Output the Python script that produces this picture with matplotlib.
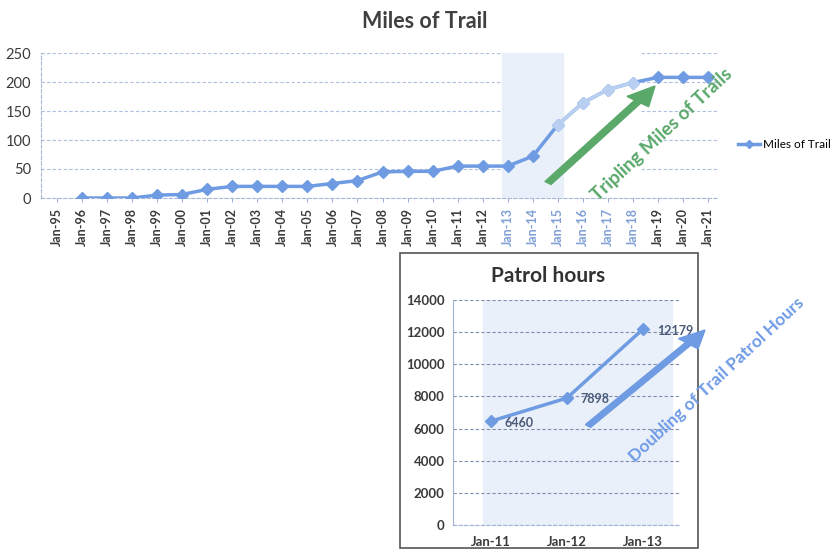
import matplotlib
matplotlib.use("Agg")
import matplotlib.pyplot as plt
import numpy as np
from matplotlib.patches import Rectangle, FancyArrow

# ---- data ----
years = ["Jan-95", "Jan-96", "Jan-97", "Jan-98", "Jan-99", "Jan-00", "Jan-01", "Jan-02",
         "Jan-03", "Jan-04", "Jan-05", "Jan-06", "Jan-07", "Jan-08", "Jan-09", "Jan-10",
         "Jan-11", "Jan-12", "Jan-13", "Jan-14", "Jan-15", "Jan-16", "Jan-17", "Jan-18",
         "Jan-19", "Jan-20", "Jan-21"]
miles = [np.nan, 0, 0, 0, 5, 6, 15, 20, 20, 20, 20, 25, 30, 45, 46, 46,
         55, 55, 55, 72, 126, 164, 187, 199, 208, 208, 208]

patrol_years = ["Jan-11", "Jan-12", "Jan-13"]
patrol_hours = [6460, 7898, 12179]

BLUE = "#6f9be2"
LIGHT = "#b9cff2"
DARK = "#3a3a3a"
GREEN = "#5aa86a"

plt.rcParams['font.family'] = ['Lato', 'DejaVu Sans']

fig = plt.figure(figsize=(8.36, 5.5), dpi=100)

# ---- main chart ----
W, H = 836, 550
def fbox(l, t, r, b):
    return [l / W, 1 - b / H, (r - l) / W, (b - t) / H]

ax = fig.add_axes(fbox(41, 53, 718, 198))
x = np.arange(len(years))
ax.set_xlim(-0.64, 26.4)
ax.set_ylim(0, 250)
ax.set_yticks([0, 50, 100, 150, 200, 250])
ax.grid(axis='y', color="#aebfe0", linestyle=(0, (3, 2)), linewidth=0.8, zorder=0)
ax.set_axisbelow(True)
# washed-out pasted region
ax.axvspan(17.77, 23.28, color="white", zorder=1)
ax.axvspan(17.77, 20.2, color="#eaf0fa", zorder=1.5)

ax.plot(x, miles, color=BLUE, linewidth=2.5, marker='D', markersize=6.5,
        markerfacecolor=BLUE, markeredgecolor=BLUE, zorder=3, label="Miles of Trail")
seg = slice(20, 24)
ax.plot(x[seg], miles[seg], color=LIGHT, linewidth=2.5, marker='D', markersize=6.5,
        markerfacecolor=LIGHT, markeredgecolor=LIGHT, zorder=3.5)

ax.set_xticks(x)
ax.set_xticklabels(years, rotation=90, fontsize=9, fontweight='bold', color=DARK)
for i, lab in enumerate(ax.get_xticklabels()):
    if 18 <= i <= 23:
        lab.set_color("#7f9fd6")
ax.tick_params(axis='x', length=3, color="#9fb3d8", pad=4)
ax.tick_params(axis='y', length=0, labelsize=10.5, labelcolor=DARK, pad=7)
for s in ["top", "right"]:
    ax.spines[s].set_visible(False)
ax.spines["left"].set_color("#a8b8d8")
ax.spines["bottom"].set_color("#a8b8d8")
ax.spines["left"].set_linestyle((0, (3, 2)))
ax.spines["bottom"].set_linestyle((0, (3, 2)))

fig.text(425 / W, 1 - 22 / H, "Miles of Trail", ha='center', va='center',
         fontsize=15.5, fontweight='bold', color="#404040")

ax.legend(loc='center left', bbox_to_anchor=(738 / W, 1 - 145 / H),
          bbox_transform=fig.transFigure, frameon=False, fontsize=8.5,
          handlelength=1.9, markerscale=0.6, borderpad=0, handletextpad=0.2,
          borderaxespad=0)

# green arrow + text
fig.add_artist(FancyArrow(548 / W, 1 - 183 / H, (655 - 548) / W, (183 - 86) / H,
                          width=0.009, head_width=0.032, head_length=0.035,
                          length_includes_head=True, color=GREEN,
                          transform=fig.transFigure))
fig.text(662 / W, 1 - 135 / H, "Tripling Miles of Trails", rotation=43,
         ha='center', va='center', fontsize=13.5, fontweight='bold', color=GREEN)

# ---- inset chart ----
fig.add_artist(Rectangle((400 / W, 1 - 548 / H), 298 / W, 295 / H,
                         transform=fig.transFigure, facecolor="white",
                         edgecolor="#555555", linewidth=1.2, zorder=0))
ax2 = fig.add_axes(fbox(453, 300, 680, 525))
xp = np.arange(len(patrol_years))
ax2.set_xlim(-0.5, 2.49)
ax2.set_ylim(0, 14000)
ax2.set_yticks(range(0, 14001, 2000))
ax2.axvspan(-0.105, 2.38, color="#eaf0fa", zorder=0)
ax2.grid(axis='y', color="#7f8fb0", linestyle=(0, (3, 2)), linewidth=0.8, zorder=0.5)
ax2.set_axisbelow(True)
ax2.plot(xp, patrol_hours, color=BLUE, linewidth=2.5, marker='D', markersize=6.5,
         markerfacecolor=BLUE, markeredgecolor=BLUE, zorder=3)
for xi, v in zip(xp, patrol_hours):
    ax2.annotate(str(v), (xi, v), xytext=(10, -1), textcoords='offset points',
                 ha='left', va='center', fontsize=9, fontweight='bold', color="#4a5a78")
ax2.set_xticks(xp)
ax2.set_xticklabels(patrol_years, fontsize=9.5, fontweight='bold', color=DARK)
ax2.tick_params(axis='x', length=0, pad=8)
ax2.tick_params(axis='y', length=0, labelsize=9.5, labelcolor=DARK, pad=6)
for lab in ax2.get_yticklabels():
    lab.set_fontweight('bold')
for s in ["top", "right"]:
    ax2.spines[s].set_visible(False)
ax2.spines["left"].set_color("#9fb3d8")
ax2.spines["bottom"].set_color("#9fb3d8")
ax2.spines["bottom"].set_linestyle((0, (3, 2)))

fig.text(548 / W, 1 - 276 / H, "Patrol hours", ha='center', va='center',
         fontsize=15, fontweight='bold', color="#333333")

# blue arrow + text
fig.add_artist(FancyArrow(588 / W, 1 - 426 / H, (705 - 588) / W, (426 - 330) / H,
                          width=0.008, head_width=0.03, head_length=0.032,
                          length_includes_head=True, color=BLUE,
                          transform=fig.transFigure))
fig.text(717 / W, 1 - 380 / H, "Doubling of Trail Patrol Hours", rotation=43,
         ha='center', va='center', fontsize=12.5, fontweight='bold', color="#6f9be6")

fig.savefig("out.png", dpi=100)
